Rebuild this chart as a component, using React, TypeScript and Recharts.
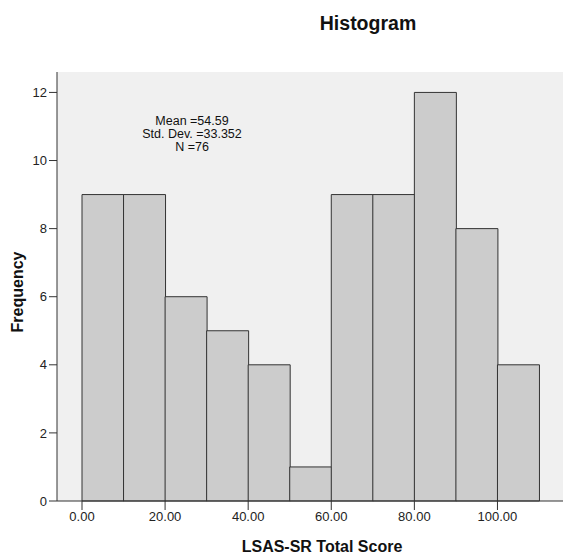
import { Bar, BarChart, CartesianGrid, XAxis, YAxis } from "recharts";

const bins = ["0-10", "10-20", "20-30", "30-40", "40-50", "50-60", "60-70", "70-80", "80-90", "90-100", "100-110"];
const binStarts = [0, 10, 20, 30, 40, 50, 60, 70, 80, 90, 100];
const frequencies = [9, 9, 6, 5, 4, 1, 9, 9, 12, 8, 4];
const xTicks = [0, 20, 40, 60, 80, 100];
const yTicks = [0, 2, 4, 6, 8, 10, 12];
const statLines = ["Mean =54.59", "Std. Dev. =33.352", "N =76"];

const data = bins.map((bin, i) => ({ bin, start: binStarts[i], count: frequencies[i] }));

const font = "'Liberation Sans', Arial, sans-serif";
const tickStyle = { fontSize: 13, fill: "#222", fontFamily: font };

export default function App() {
  return (
    <div style={{ position: "absolute", left: 0, top: 0, width: 563, height: 557, background: "#fff", fontFamily: font }}>
      <BarChart width={563} height={557} data={data} margin={{ top: 72, right: 0, bottom: 26, left: 0 }} barCategoryGap={0}>
        <CartesianGrid fill="#f0f0f0" horizontal={false} vertical={false} />
        <XAxis dataKey="bin" hide height={0} padding={{ left: 25, right: 24 }} />
        <XAxis
          xAxisId="num"
          dataKey="start"
          type="number"
          scale="linear"
          domain={[0, 110]}
          allowDataOverflow
          ticks={xTicks}
          interval={0}
          tickFormatter={(v: number) => v.toFixed(2)}
          padding={{ left: 25, right: 24 }}
          height={30}
          tick={tickStyle}
          tickSize={9}
          tickMargin={2}
          axisLine={{ stroke: "#333" }}
          tickLine={{ stroke: "#333" }}
        />
        <XAxis xAxisId="top" dataKey="start" orientation="top" type="number" scale="linear" domain={[0, 110]} allowDataOverflow height={0} tick={false} tickLine={false} axisLine={{ stroke: "#666", strokeWidth: 1.5 }} />
        <YAxis
          type="number"
          domain={[0, 12.6]}
          ticks={yTicks}
          interval={0}
          width={57}
          tick={tickStyle}
          tickSize={8}
          axisLine={{ stroke: "#333" }}
          tickLine={{ stroke: "#333" }}
        />
        <Bar dataKey="count" fill="#cccccc" stroke="#333" strokeWidth={1} isAnimationActive={false} />
      </BarChart>
      <div style={{ position: "absolute", left: 368, top: 23, transform: "translate(-50%, -50%)", fontSize: 19.5, fontWeight: "bold", color: "#111", whiteSpace: "nowrap" }}>
        Histogram
      </div>
      <div style={{ position: "absolute", left: 322, top: 547, transform: "translate(-50%, -50%)", fontSize: 16, fontWeight: "bold", color: "#111", whiteSpace: "nowrap" }}>
        LSAS-SR Total Score
      </div>
      <div style={{ position: "absolute", left: 18, top: 292, transform: "translate(-50%, -50%) rotate(-90deg)", fontSize: 16, fontWeight: "bold", color: "#111", whiteSpace: "nowrap" }}>
        Frequency
      </div>
      <div style={{ position: "absolute", left: 192, top: 115, transform: "translateX(-50%)", fontSize: 12.5, lineHeight: "13px", color: "#111", textAlign: "center", whiteSpace: "nowrap" }}>
        {statLines.map((s) => (
          <div key={s}>{s}</div>
        ))}
      </div>
    </div>
  );
}
